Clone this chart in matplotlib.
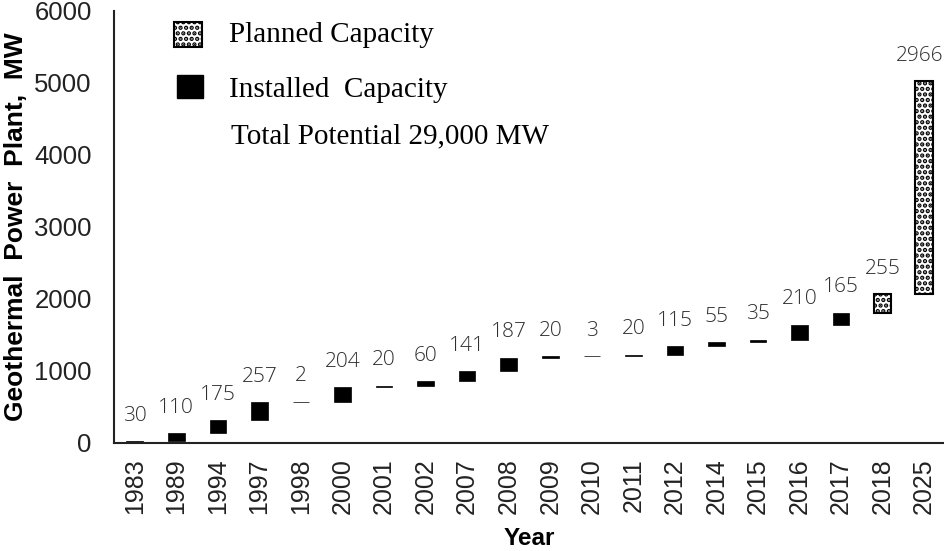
import matplotlib
matplotlib.use("Agg")
import matplotlib.pyplot as plt
import matplotlib.patches as mpatches
import numpy as np

plt.rcParams['hatch.color'] = 'black'
plt.rcParams['hatch.linewidth'] = 2.2

years = ["1983", "1989", "1994", "1997", "1998", "2000", "2001", "2002", "2007", "2008",
         "2009", "2010", "2011", "2012", "2014", "2015", "2016", "2017", "2018", "2025"]
added_mw = [30, 110, 175, 257, 2, 204, 20, 60, 141, 187,
            20, 3, 20, 115, 55, 35, 210, 165, 255, 2966]
status = ["installed"] * 18 + ["planned"] * 2
y_ticks = [0, 1000, 2000, 3000, 4000, 5000, 6000]
legend_labels = ["Planned Capacity", "Installed  Capacity", "Total Potential 29,000 MW"]

added = np.array(added_mw)
tops = np.cumsum(added)
bottoms = tops - added
x = np.arange(len(years))

W, H = 945, 551
fig = plt.figure(figsize=(W/100, H/100), dpi=100)
ax = fig.add_axes([114/W, 1-443/H, 1-114/W, (443-11)/H])

HATCH = "..."
for xi, b, h, s in zip(x, bottoms, added, status):
    if s == "installed":
        ax.bar(xi, h, bottom=b, width=0.4, color="black", edgecolor="black", linewidth=0.5)
    else:
        ax.bar(xi, h, bottom=b, width=0.42, color="white", edgecolor="black",
               linewidth=1.5, hatch=HATCH)

for i, (xi, t, v) in enumerate(zip(x, tops, added)):
    dx = -3 if i == len(x) - 1 else 0
    ax.annotate(str(v), xy=(xi, t), xytext=(dx, 11), textcoords="offset points",
                ha="center", va="bottom", fontsize=15, color="#2e2e2e",
                family="Open Sans", fontweight="light")

ax.set_xlim(-0.5, 19.5)
ax.set_ylim(0, 6000)
ax.set_xticks(x)
ax.set_xticklabels(years, rotation=90, fontsize=18, family="Liberation Sans", color="#222222")
ax.set_yticks(y_ticks)
ax.set_yticklabels([str(v) for v in y_ticks], fontsize=18.5, family="Liberation Sans", color="#222222")
ax.tick_params(axis="both", length=0)
ax.tick_params(axis="y", pad=16)
ax.tick_params(axis="x", pad=11)
for sp in ["top", "right"]:
    ax.spines[sp].set_visible(False)
for sp in ["left", "bottom"]:
    ax.spines[sp].set_linewidth(1.5)
    ax.spines[sp].set_color("#222222")

ax.set_ylabel("Geothermal  Power  Plant,  MW", fontsize=19, fontweight="bold",
              family="Liberation Sans")
ax.yaxis.set_label_coords(-0.104, 0.5)
ax.set_xlabel("Year", fontsize=17.5, fontweight="bold", family="Liberation Sans")
ax.xaxis.set_label_coords(0.5, -0.194)

# legend drawn manually (figure pixel coordinates)
def fx(px):
    return px / W

def fy(py):
    return 1 - py / H

fig.patches.append(mpatches.Rectangle((fx(174), fy(47)), 28/W, 25/H, transform=fig.transFigure,
                                      facecolor="white", edgecolor="black", linewidth=1.5,
                                      hatch=HATCH, figure=fig))
fig.patches.append(mpatches.Rectangle((fx(177), fy(98)), 26/W, 23/H, transform=fig.transFigure,
                                      facecolor="black", edgecolor="black", figure=fig))
for (tx, ty), lab in zip([(229, 42), (229, 97), (231, 143)], legend_labels):
    fig.text(fx(tx), fy(ty), lab, ha="left", va="baseline", fontsize=21,
             family="Liberation Serif", color="black")

fig.savefig("out.png", dpi=100)
